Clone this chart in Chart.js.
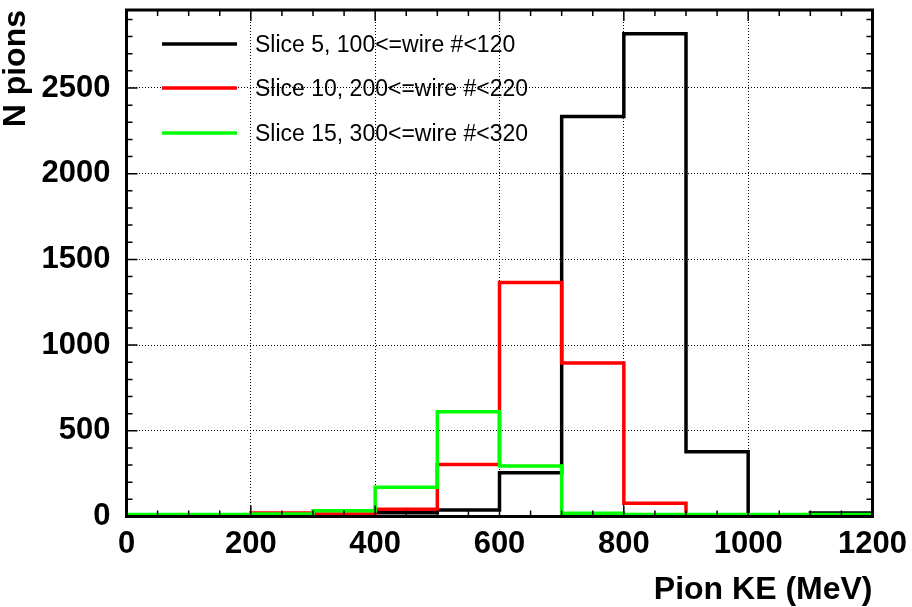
<!DOCTYPE html>
<html>
<head>
<meta charset="utf-8">
<title>Pion KE per slice</title>
<script src="https://cdn.jsdelivr.net/npm/chart.js@4.4.0/dist/chart.umd.min.js"></script>
<style>
    html, body { margin: 0; padding: 0; background: #fff; }
    canvas { display: block; }
</style>
</head>
<body>
<canvas id="pionKeChart" width="912" height="607"></canvas>
<script>
// Histogram bins (lower edges, MeV), each 100 MeV wide
const binEdges = [0, 100, 200, 300, 400, 500, 600, 700, 800, 900, 1000, 1100];
const binWidth = 100;

// Legend labels
const seriesLabels = [
    'Slice 5, 100<=wire #<120',
    'Slice 10, 200<=wire #<220',
    'Slice 15, 300<=wire #<320'
];

// Counts per bin
const slice5 = [0, 0, 2, 3, 22, 38, 255, 2334, 2816, 378, 5, 20];
const slice10 = [2, 2, 20, 14, 42, 304, 1365, 896, 77, 3, 2, 2];
const slice15 = [12, 12, 15, 34, 170, 611, 294, 19, 11, 11, 11, 11];

// Axis ticks
const xTicks = [0, 200, 400, 600, 800, 1000, 1200];
const yTicks = [0, 500, 1000, 1500, 2000, 2500];
const xMinorStep = 50;
const yMinorStep = 100;
const yMax = 2955;

// turn bin contents into points for a stepped line
function toSteps(values) {
    const pts = binEdges.map((e, i) => ({ x: e, y: values[i] }));
    pts.push({ x: binEdges[binEdges.length - 1] + binWidth, y: values[values.length - 1] });
    return pts;
}

Chart.defaults.font.family = "'Liberation Sans', Arial, Helvetica, sans-serif";
Chart.defaults.color = '#000';

// ROOT-like frame, inward ticks and legend
const rootStyle = {
    id: 'rootStyle',
    afterDraw(chart) {
        const ctx = chart.ctx;
        const a = chart.chartArea;
        const x = chart.scales.x;
        const y = chart.scales.y;
        ctx.save();
        ctx.strokeStyle = '#000';
        ctx.lineWidth = 1.5;
        ctx.beginPath();
        for (let v = xTicks[0]; v <= xTicks[xTicks.length - 1]; v += xMinorStep) {
            const px = x.getPixelForValue(v);
            const len = xTicks.includes(v) ? 11 : 6;
            ctx.moveTo(px, a.bottom); ctx.lineTo(px, a.bottom - len);
            ctx.moveTo(px, a.top); ctx.lineTo(px, a.top + len);
        }
        for (let v = 0; v <= yMax; v += yMinorStep) {
            const py = y.getPixelForValue(v);
            const len = yTicks.includes(v) ? 11 : 6;
            ctx.moveTo(a.left, py); ctx.lineTo(a.left + len, py);
            ctx.moveTo(a.right, py); ctx.lineTo(a.right - len, py);
        }
        ctx.stroke();

        // frame
        ctx.lineWidth = 3;
        ctx.strokeRect(a.left, a.top, a.right - a.left, a.bottom - a.top);

        // legend
        const rows = [44, 88, 133];
        ctx.font = "23px 'Liberation Sans', Arial, sans-serif";
        ctx.textBaseline = 'middle';
        ctx.textAlign = 'left';
        chart.data.datasets.forEach((ds, i) => {
            ctx.strokeStyle = ds.borderColor;
            ctx.lineWidth = 3.5;
            ctx.beginPath();
            ctx.moveTo(162, rows[i]);
            ctx.lineTo(237, rows[i]);
            ctx.stroke();
            ctx.fillStyle = '#000';
            ctx.fillText(ds.label, 255, rows[i] + 2);
        });
        ctx.restore();
    }
};

const ctx = document.getElementById('pionKeChart').getContext('2d');
const pionChart = new Chart(ctx, {
    type: 'line',
    data: {
        datasets: [
            {
                label: seriesLabels[0],
                data: toSteps(slice5),
                borderColor: '#000000',
                order: 3
            },
            {
                label: seriesLabels[1],
                data: toSteps(slice10),
                borderColor: '#ff0000',
                order: 2
            },
            {
                label: seriesLabels[2],
                data: toSteps(slice15),
                borderColor: '#00ff00',
                order: 1
            }
        ]
    },
    options: {
        responsive: false,
        animation: false,
        devicePixelRatio: 1,
        datasets: {
            line: {
                stepped: 'before',
                borderWidth: 3.5,
                pointRadius: 0,
                fill: false,
                borderCapStyle: 'square',
                borderJoinStyle: 'miter'
            }
        },
        layout: {
            padding: { top: 10, right: 39.5, bottom: 0, left: 0 }
        },
        plugins: {
            legend: { display: false },
            tooltip: { enabled: false }
        },
        scales: {
            x: {
                type: 'linear',
                min: 0,
                max: 1200,
                afterFit: function (scale) {
                    scale.height = 90.5;
                    scale.paddingLeft = 0;
                    scale.paddingRight = 0;
                },
                afterBuildTicks: function (scale) { scale.ticks = xTicks.map(v => ({ value: v })); },
                ticks: {
                    padding: 9,
                    maxRotation: 0,
                    autoSkip: false,
                    font: { size: 31, weight: 'bold' },
                    callback: v => String(v)
                },
                grid: { color: '#000', lineWidth: 1, drawTicks: false },
                border: { display: false, dash: [1, 2] },
                title: {
                    display: true,
                    text: 'Pion KE (MeV)',
                    align: 'end',
                    font: { size: 32, weight: 'bold', lineHeight: 1 },
                    padding: { top: 0, bottom: 1 }
                }
            },
            y: {
                min: 0,
                max: yMax,
                afterFit: function (scale) {
                    scale.width = 126.5;
                    scale.paddingTop = 0;
                    scale.paddingBottom = 0;
                },
                afterBuildTicks: function (scale) { scale.ticks = yTicks.map(v => ({ value: v })); },
                ticks: {
                    padding: 16,
                    font: { size: 31, weight: 'bold' },
                    callback: v => String(v)
                },
                grid: { color: '#000', lineWidth: 1, drawTicks: false },
                border: { display: false, dash: [1, 2] },
                title: {
                    display: true,
                    text: 'N pions',
                    align: 'end',
                    font: { size: 32, weight: 'bold', lineHeight: 1 },
                    padding: { top: 0, bottom: 0 }
                }
            }
        }
    },
    plugins: [rootStyle]
});
</script>
</body>
</html>
